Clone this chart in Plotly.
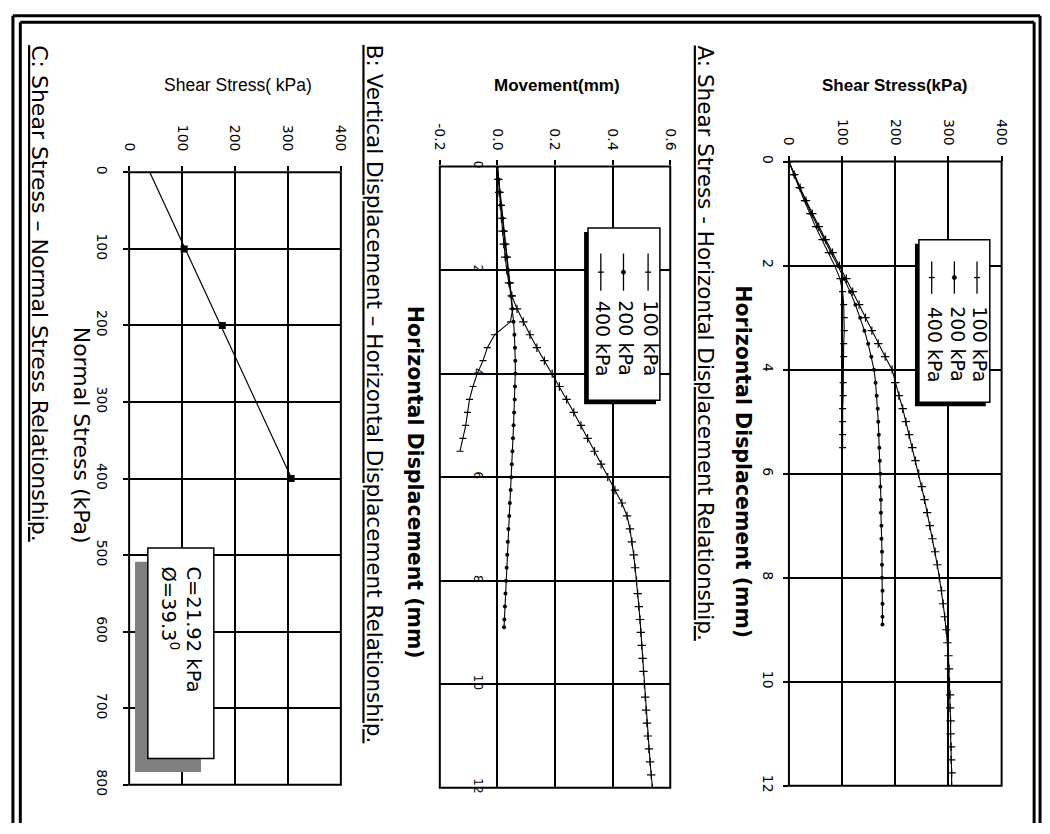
import numpy as np
import plotly.graph_objects as go

W, H = 1050, 834

# ---------------------------------------------------------------------------
# Direct shear test readings (one list per normal stress)
# ---------------------------------------------------------------------------
series_names = ["100 kPa", "200 kPa", "400 kPa"]

# horizontal displacement (mm)
disp_100 = [0, 0.25, 0.5, 0.75, 1, 1.25, 1.5, 1.75, 2, 2.25, 2.5, 2.75, 3,
            3.25, 3.5, 3.75, 4, 4.25, 4.5, 4.75, 5, 5.25, 5.5]
disp_200 = [0, 0.25, 0.5, 0.75, 1, 1.25, 1.5, 1.75, 2, 2.25, 2.5, 2.75, 3,
            3.25, 3.5, 3.75, 4, 4.25, 4.5, 4.75, 5, 5.25, 5.5, 5.75, 6,
            6.25, 6.5, 6.75, 7, 7.25, 7.5, 7.75, 8, 8.25, 8.5, 8.75, 8.9]
disp_400 = [0, 0.25, 0.5, 0.75, 1, 1.25, 1.5, 1.75, 2, 2.25, 2.5, 2.75, 3,
            3.25, 3.5, 3.75, 4, 4.25, 4.5, 4.75, 5, 5.25, 5.5, 5.75, 6,
            6.25, 6.5, 6.75, 7, 7.25, 7.5, 7.75, 8, 8.25, 8.5, 8.75, 9,
            9.25, 9.5, 9.75, 10, 10.25, 10.5, 10.75, 11, 11.25, 11.5, 11.75, 12]

# shear stress (kPa)
shear_100 = [0, 9, 19, 29, 39, 50, 62, 74, 86, 96, 101, 103, 104, 104, 103,
             103, 102, 102, 102, 101, 101, 101, 101]
shear_200 = [0, 10, 20, 31, 42, 54, 66, 79, 92, 104, 115, 125, 134, 142, 149,
             155, 160, 163, 165, 167, 168, 169, 170, 171, 172, 172, 173, 173,
             174, 174, 175, 175, 175, 176, 176, 176, 176]
shear_400 = [0, 10, 21, 32, 44, 56, 69, 82, 95, 108, 120, 132, 144, 156, 168,
             181, 194, 200, 207, 214, 220, 226, 232, 238, 244, 250, 255, 260,
             265, 270, 275, 279, 283, 287, 290, 293, 296, 298, 300, 301, 302,
             303, 303, 304, 304, 305, 305, 306, 306]

# vertical movement (mm)
move_100 = [0, 0.004, 0.009, 0.014, 0.019, 0.024, 0.030, 0.035, 0.040, 0.045,
            0.050, 0.053, 0.045, -0.010, -0.035, -0.050, -0.070, -0.085,
            -0.097, -0.104, -0.110, -0.120, -0.130]
move_200 = [0, 0.004, 0.008, 0.012, 0.017, 0.022, 0.027, 0.032, 0.037, 0.042,
            0.047, 0.052, 0.056, 0.059, 0.061, 0.062, 0.062, 0.061, 0.060,
            0.058, 0.056, 0.054, 0.052, 0.050, 0.048, 0.046, 0.043, 0.041,
            0.038, 0.036, 0.034, 0.032, 0.030, 0.028, 0.026, 0.024, 0.023]
move_400 = [0, 0.003, 0.006, 0.010, 0.014, 0.018, 0.022, 0.027, 0.032, 0.040,
            0.050, 0.068, 0.090, 0.113, 0.137, 0.163, 0.190, 0.215, 0.240,
            0.265, 0.290, 0.313, 0.337, 0.360, 0.383, 0.408, 0.432, 0.450,
            0.460, 0.467, 0.473, 0.478, 0.483, 0.487, 0.491, 0.495, 0.498,
            0.501, 0.504, 0.507, 0.510, 0.513, 0.516, 0.519, 0.522, 0.526,
            0.530, 0.534, 0.538]

# failure envelope: peak shear stress against normal stress
normal_stress = [100, 200, 400]
peak_shear = [104, 176, 306]

cohesion_text = "C=21.92 kPa"
friction_text = "Ø=39.3<sup>0</sup>"

# axis ticks
shear_ticks = [0, 100, 200, 300, 400]
disp_ticks = [0, 2, 4, 6, 8, 10, 12]
move_ticks = [-0.2, 0.0, 0.2, 0.4, 0.6]
move_ticktext = ["-0.2", "0.0", "0.2", "0.4", "0.6"]
normal_ticks = [0, 100, 200, 300, 400, 500, 600, 700, 800]

# ---------------------------------------------------------------------------
ARIAL = "Arial, Liberation Sans, sans-serif"
DEJAVU = "DejaVu Sans, sans-serif"
BLACK = "black"

marker_styles = {
    "100 kPa": dict(symbol="line-ew-open", size=5, line=dict(color=BLACK, width=1.2)),
    "200 kPa": dict(symbol="circle", size=4, color=BLACK),
    "400 kPa": dict(symbol="cross-thin-open", size=6, line=dict(color=BLACK, width=1.2)),
}


def fx(px):
    """pixel column -> paper x"""
    return px / W


def fy(py):
    """pixel row (from top) -> paper y"""
    return 1 - py / H


def axis(**kw):
    base = dict(showgrid=True, gridcolor=BLACK, gridwidth=1.5, zeroline=False,
                showline=False, ticks="outside", ticklen=5, tickwidth=1.5,
                tickcolor=BLACK, tickangle=90, fixedrange=True,
                tickfont=dict(family=DEJAVU, size=14, color=BLACK))
    base.update(kw)
    return base


fig = go.Figure()

# A: shear stress vs horizontal displacement
for name, d, s in zip(series_names, [disp_100, disp_200, disp_400],
                      [shear_100, shear_200, shear_400]):
    fig.add_trace(go.Scatter(x=s, y=d, xaxis="x", yaxis="y", mode="lines+markers",
                             name=name, line=dict(color=BLACK, width=1.1),
                             marker=marker_styles[name], showlegend=False))

# B: vertical movement vs horizontal displacement
for name, d, m in zip(series_names, [disp_100, disp_200, disp_400],
                      [move_100, move_200, move_400]):
    fig.add_trace(go.Scatter(x=m, y=d, xaxis="x2", yaxis="y2", mode="lines+markers",
                             name=name, line=dict(color=BLACK, width=1.1),
                             marker=marker_styles[name], showlegend=False))

# C: failure envelope with least-squares line
coef = np.polyfit(normal_stress, peak_shear, 1)
fit_normal = np.array([0, max(normal_stress)])
fit_shear = np.polyval(coef, fit_normal)
fig.add_trace(go.Scatter(x=fit_shear, y=fit_normal, xaxis="x3", yaxis="y3",
                         mode="lines", line=dict(color=BLACK, width=1.2),
                         showlegend=False))
fig.add_trace(go.Scatter(x=peak_shear, y=normal_stress, xaxis="x3", yaxis="y3",
                         mode="markers", marker=dict(symbol="square", size=7, color=BLACK),
                         showlegend=False))

fig.update_layout(
    width=W, height=H, margin=dict(l=0, r=0, t=0, b=0),
    paper_bgcolor="white", plot_bgcolor="white", showlegend=False,
    xaxis=axis(domain=[fx(793), fx(1009)], range=[0, 400], tickvals=shear_ticks,
               side="top", anchor="y", ticklabelstandoff=5),
    yaxis=axis(domain=[fy(796), fy(158)], range=[12, 0], tickvals=disp_ticks,
               anchor="x", ticklabelstandoff=3),
    xaxis2=axis(domain=[fx(438.5), fx(672.5)], range=[-0.2, 0.6], tickvals=move_ticks,
                ticktext=move_ticktext, side="top", anchor="y2", ticklabelstandoff=5),
    yaxis2=axis(domain=[fy(798), fy(163)], range=[12, 0], tickvals=disp_ticks,
                anchor="free", position=fx(497), ticks="", ticklabelstandoff=11,
                tickfont=dict(family=DEJAVU, size=12, color=BLACK)),
    xaxis3=axis(domain=[fx(123), fx(338)], range=[0, 400], tickvals=shear_ticks,
                side="top", anchor="y3", ticklabelstandoff=10),
    yaxis3=axis(domain=[fy(795), fy(169)], range=[800, 0], tickvals=normal_ticks,
                anchor="x3", ticklabelstandoff=9),
)

shapes = []
annotations = []

# plot frames
for xa, ya in [("x", "y"), ("x2", "y2"), ("x3", "y3")]:
    shapes.append(dict(type="rect", xref=f"{xa} domain", yref=f"{ya} domain",
                       x0=0, x1=1, y0=0, y1=1, line=dict(color=BLACK, width=2)))

# double page border (open at the bottom)
for left, right, top, wid in [(5, 1048, 9, 3), (12.5, 1042, 15.5, 3)]:
    shapes.append(dict(type="line", xref="paper", yref="paper", x0=fx(left), x1=fx(left),
                       y0=fy(top), y1=0, line=dict(color=BLACK, width=wid)))
    shapes.append(dict(type="line", xref="paper", yref="paper", x0=fx(right), x1=fx(right),
                       y0=fy(top), y1=0, line=dict(color=BLACK, width=wid)))
    shapes.append(dict(type="line", xref="paper", yref="paper", x0=fx(left), x1=fx(right),
                       y0=fy(top), y1=fy(top), line=dict(color=BLACK, width=wid)))


def rtext(text, x, y, size, family=DEJAVU, yanchor="top", xanchor="center"):
    annotations.append(dict(text=text, x=fx(x), y=fy(y), xref="paper", yref="paper",
                            showarrow=False, textangle=90, xanchor=xanchor,
                            yanchor=yanchor, align="left",
                            font=dict(family=family, size=size, color=BLACK)))


def htext(text, x, y, size, family=ARIAL):
    annotations.append(dict(text=text, x=fx(x), y=fy(y), xref="paper", yref="paper",
                            showarrow=False, xanchor="center", yanchor="middle",
                            font=dict(family=family, size=size, color=BLACK)))


# axis titles
htext("<b>Shear Stress(kPa)</b>", 901, 80, 17)
htext("<b>Movement(mm)</b>", 557, 80, 17)
htext("Shear Stress( kPa)", 234, 80, 17.5)
rtext("<b>Horizontal Displacement (mm)</b>", 746, 465, 20.5, yanchor="middle")
rtext("<b>Horizontal Displacement (mm)</b>", 414, 486, 20.5, yanchor="middle")
rtext("Normal Stress (kPa)", 75, 438, 22, yanchor="middle")

# captions
rtext("<u>A: Shear Stress - Horizontal Displacement Relationship.</u>", 708, 37, 21.5)
rtext("<u>B: Vertical Displacement – Horizontal Displacement Relationship.</u>", 372, 37, 21.5)
rtext("<u>C: Shear Stress – Normal Stress Relationship.</u>", 32, 37, 22)


def legend_box(x0, x1, y0, y1, entry_x, sw0, sw1, text_y):
    shapes.append(dict(type="rect", xref="paper", yref="paper",
                       x0=fx(x0 - 4), x1=fx(x1 - 4), y0=fy(y0 + 4), y1=fy(y1 + 4),
                       fillcolor=BLACK, line=dict(width=0)))
    shapes.append(dict(type="rect", xref="paper", yref="paper",
                       x0=fx(x0), x1=fx(x1), y0=fy(y0), y1=fy(y1),
                       fillcolor="white", line=dict(color=BLACK, width=1.5)))
    ym = (sw0 + sw1) / 2
    for name, ex in zip(series_names, entry_x):
        shapes.append(dict(type="line", xref="paper", yref="paper", x0=fx(ex), x1=fx(ex),
                           y0=fy(sw0), y1=fy(sw1), line=dict(color=BLACK, width=1.3)))
        if name == "200 kPa":
            shapes.append(dict(type="circle", xref="paper", yref="paper",
                               x0=fx(ex - 2), x1=fx(ex + 2), y0=fy(ym - 2), y1=fy(ym + 2),
                               fillcolor=BLACK, line=dict(color=BLACK, width=1)))
        else:
            shapes.append(dict(type="line", xref="paper", yref="paper",
                               x0=fx(ex - 3), x1=fx(ex + 3), y0=fy(ym), y1=fy(ym),
                               line=dict(color=BLACK, width=1.3)))
        rtext(name, ex + 3, text_y, 19)


legend_box(925, 997, 238, 404, [984, 961, 938], 260, 293, 304)
legend_box(589, 662, 226, 402, [650, 625, 602], 252, 290, 298)

# parameter box for the envelope
shapes.append(dict(type="rect", xref="paper", yref="paper",
                   x0=fx(129), x1=fx(196), y0=fy(567), y1=fy(782),
                   fillcolor="#808080", line=dict(width=0)))
shapes.append(dict(type="rect", xref="paper", yref="paper",
                   x0=fx(142), x1=fx(209), y0=fy(553), y1=fy(768),
                   fillcolor="white", line=dict(color=BLACK, width=1.5)))
rtext(cohesion_text + "<br>" + friction_text, 176, 570, 19.5)

fig.update_layout(shapes=shapes, annotations=annotations)
fig.write_html("out.html")
